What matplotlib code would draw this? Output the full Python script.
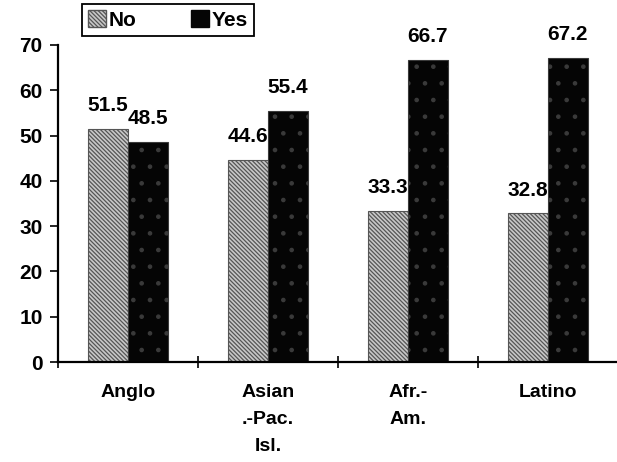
import matplotlib
matplotlib.use("Agg")
import matplotlib.pyplot as plt
import numpy as np
from matplotlib.patches import Patch

categories = ["Anglo", "Asian\n.-Pac.\nIsl.", "Afr.-\nAm.", "Latino"]
no_values = [51.5, 44.6, 33.3, 32.8]
yes_values = [48.5, 55.4, 66.7, 67.2]
series_names = ["No", "Yes"]
yticks = [0, 10, 20, 30, 40, 50, 60, 70]

plt.rcParams['font.family'] = ['Liberation Sans', 'DejaVu Sans']
plt.rcParams['hatch.linewidth'] = 0.9

fig = plt.figure(figsize=(6.17, 4.62), dpi=100)
ax = fig.add_axes([58/617, 1-362/462, 560/617, (362-45)/462])

x = np.arange(len(categories))
w = 0.285
plt.rcParams['hatch.color'] = '#555555'
no_face = '#c8c8c8'
no_hatch = '\\\\\\\\\\\\\\\\'
b1 = ax.bar(x - w/2, no_values, w, facecolor=no_face, edgecolor='#555555',
            hatch=no_hatch, linewidth=0.8)
b2 = ax.bar(x + w/2, yes_values, w, facecolor='#050505', edgecolor='#050505',
            linewidth=0.8)
for r in b2:
    r.set_hatch('.')
    r.set_edgecolor('#3a3a3a')

for rects, vals in ((b1, no_values), (b2, yes_values)):
    for r, v in zip(rects, vals):
        ax.annotate(f"{v}", (r.get_x() + r.get_width()/2, v), xytext=(0, 10),
                    textcoords='offset points', ha='center', va='bottom',
                    fontsize=15, fontweight='bold')

ax.set_xlim(-0.5, len(categories) - 0.5)
ax.set_ylim(0, 70)
ax.set_yticks(yticks)
ax.set_xticks(x)
ax.set_xticklabels(categories, fontsize=14, fontweight='bold', linespacing=1.75)
ax.set_xticks(np.arange(len(categories)) - 0.5, minor=True)
ax.tick_params(axis='x', which='major', length=0, pad=16)
ax.tick_params(axis='x', which='minor', length=8, direction='inout', width=1.2)
ax.tick_params(axis='y', which='major', length=6, direction='out', width=1.2,
               labelsize=15, pad=5)
for lab in ax.get_yticklabels():
    lab.set_fontweight('bold')
for s in ('top', 'right'):
    ax.spines[s].set_visible(False)
for s in ('left', 'bottom'):
    ax.spines[s].set_linewidth(1.6)

handles = [Patch(facecolor=no_face, edgecolor='#555555', hatch=no_hatch),
           Patch(facecolor='#050505', edgecolor='#050505')]
leg = fig.legend(handles, series_names, loc='upper left',
                 bbox_to_anchor=(82/617, 1-4/462), ncol=2, fancybox=False,
                 edgecolor='black', framealpha=1, borderaxespad=0,
                 handlelength=0.85, handleheight=0.85, handletextpad=0.15,
                 columnspacing=2.6, borderpad=0.3,
                 prop={'size': 15, 'weight': 'bold'})
leg.get_frame().set_linewidth(1.3)

fig.savefig("out.png", dpi=100)
